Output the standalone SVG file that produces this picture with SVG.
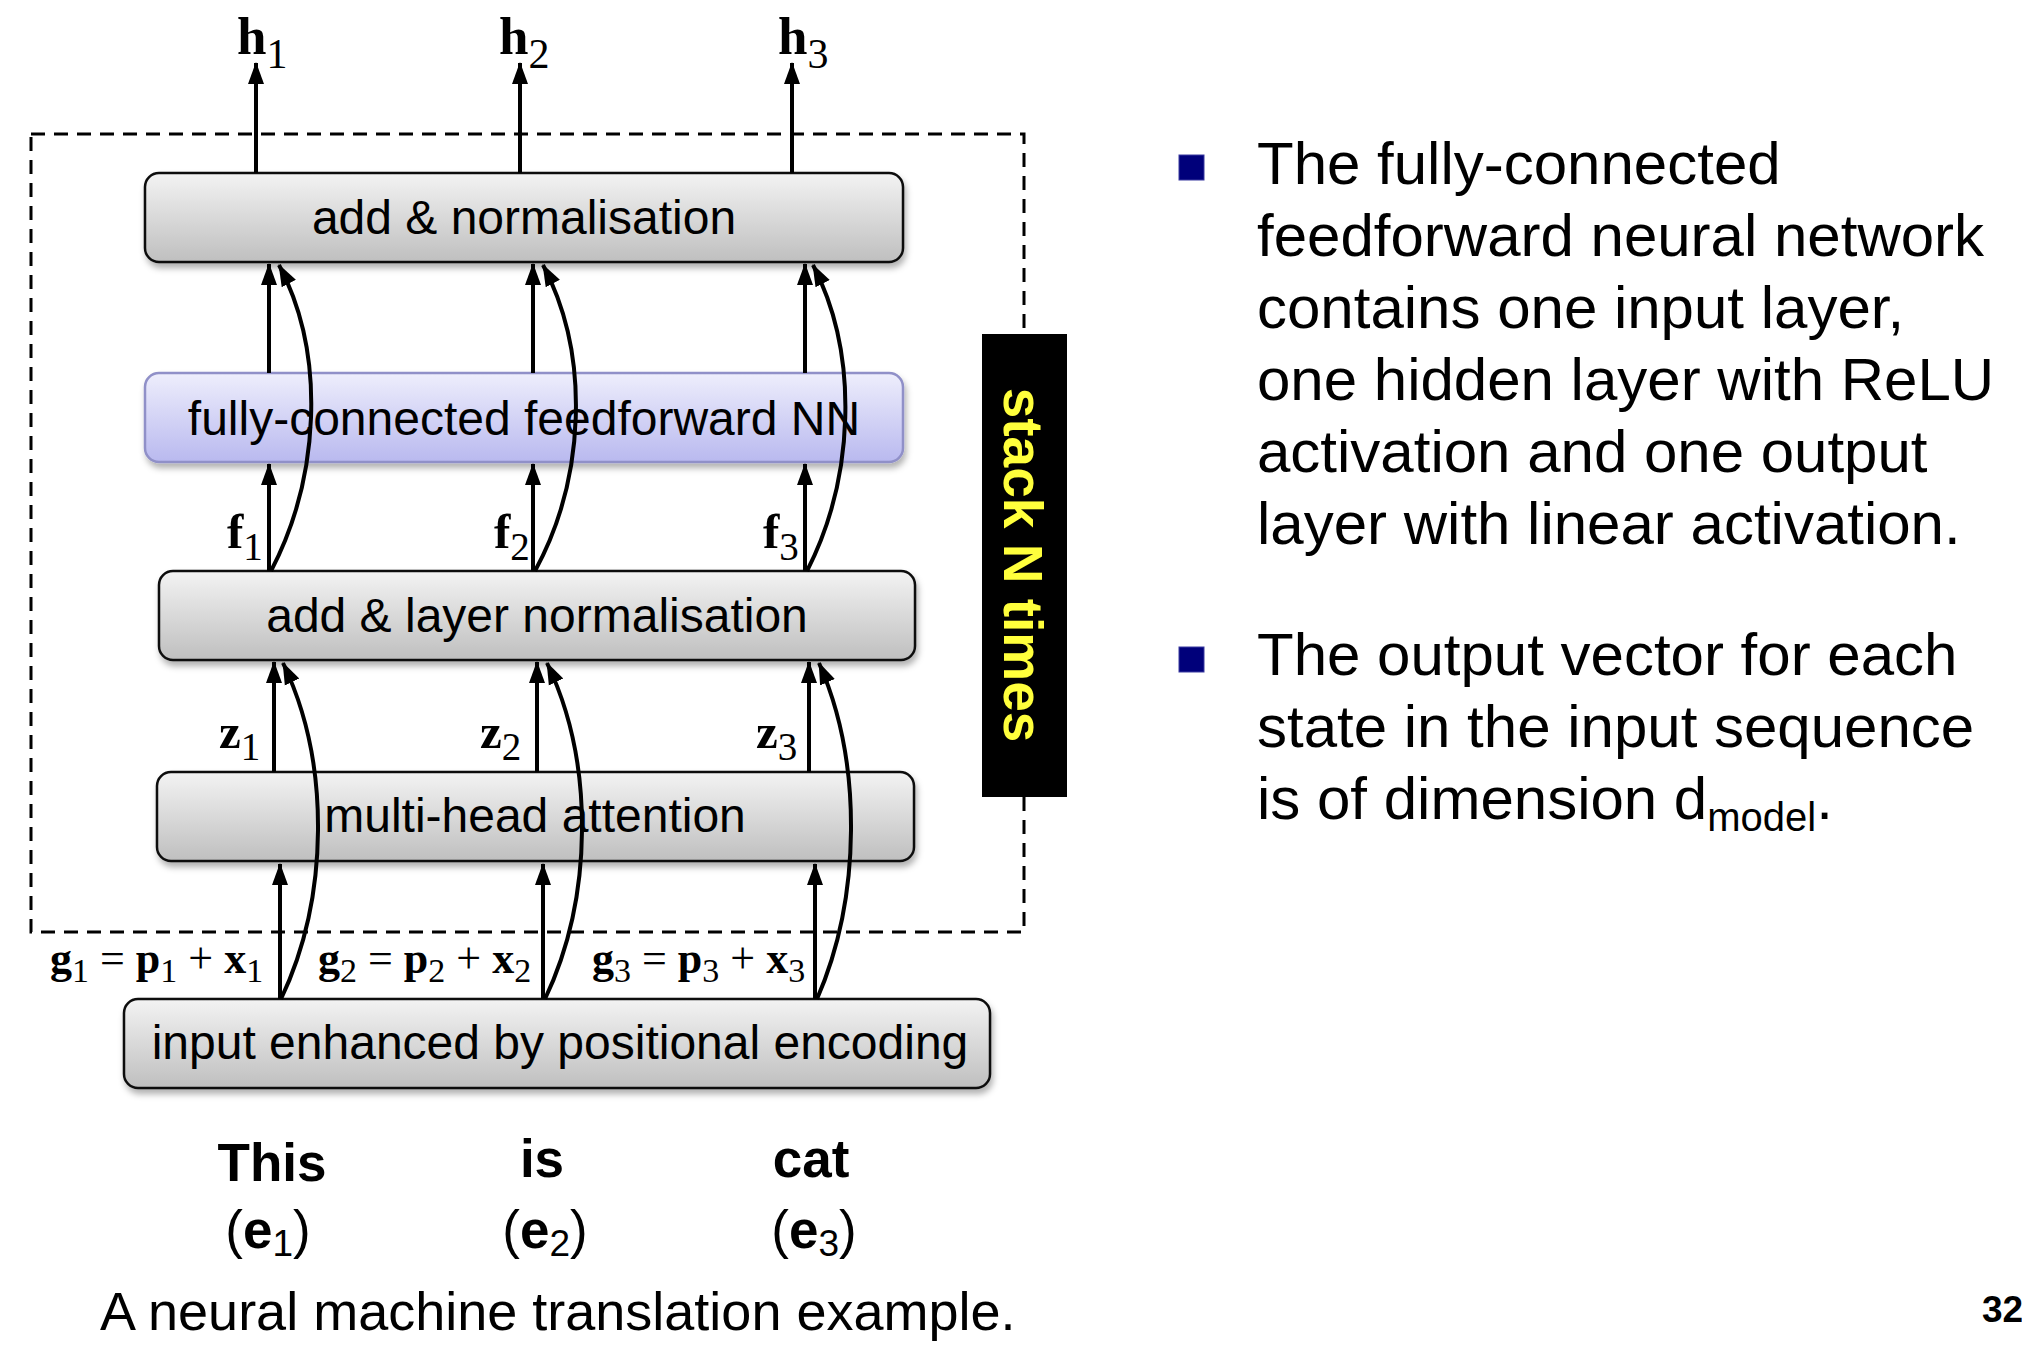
<svg xmlns="http://www.w3.org/2000/svg" width="2022" height="1348" viewBox="0 0 2022 1348">
<defs>
<linearGradient id="gGrey" x1="0" y1="0" x2="0" y2="1">
<stop offset="0" stop-color="#f3f3f3"/>
<stop offset="1" stop-color="#bfbfbf"/>
</linearGradient>
<linearGradient id="gBlue" x1="0" y1="0" x2="0" y2="1">
<stop offset="0" stop-color="#eeeefc"/>
<stop offset="1" stop-color="#b9b9ef"/>
</linearGradient>
<filter id="sh" x="-5%" y="-20%" width="110%" height="150%">
<feDropShadow dx="2" dy="5" stdDeviation="3" flood-color="#000" flood-opacity="0.3"/>
</filter>
<marker id="ah" markerUnits="userSpaceOnUse" markerWidth="22" markerHeight="22" viewBox="0 0 22 22" refX="21" refY="11" orient="auto">
<path d="M0,3 L22,11 L0,19 Z" fill="#000"/>
</marker>
<style>
.box rect{stroke:#111;stroke-width:2.5;filter:url(#sh)}
.grey rect{fill:url(#gGrey)}
.blue rect{fill:url(#gBlue);stroke:#9090c8}
.box text{font-family:"Liberation Sans",Arial,sans-serif;font-size:48px;fill:#000;text-anchor:middle}
.conn line,.conn path{stroke:#000;stroke-width:4;fill:none;marker-end:url(#ah)}
.m{font-family:"Liberation Serif","Times New Roman",serif;fill:#000}
.mb{font-weight:bold}
.sans{font-family:"Liberation Sans",Arial,sans-serif;fill:#000}
.body{font-size:60px}
.bullet{fill:#00007a;stroke:#3a3aa0;stroke-width:1}
</style>
</defs>
<rect width="2022" height="1348" fill="#fff"/>

<g id="stack-frame">
<rect x="31" y="134" width="993" height="798" fill="none" stroke="#000" stroke-width="3" stroke-dasharray="14 9"/>
</g>

<g id="input" class="box grey">
<rect x="124" y="999" width="866" height="89" rx="14"/>
<text x="560" y="1059">input enhanced by positional encoding</text>
</g>
<g id="mha" class="box grey">
<rect x="157" y="772" width="757" height="89" rx="14"/>
<text x="535" y="832">multi-head attention</text>
</g>
<g id="add-layer-norm" class="box grey">
<rect x="159" y="571" width="756" height="89" rx="14"/>
<text x="537" y="632">add &amp; layer normalisation</text>
</g>
<g id="ffn" class="box blue">
<rect x="145" y="373" width="758" height="89" rx="14"/>
<text x="524" y="435">fully-connected feedforward NN</text>
</g>
<g id="add-norm" class="box grey">
<rect x="145" y="173" width="758" height="89" rx="14"/>
<text x="524" y="234">add &amp; normalisation</text>
</g>

<g id="connectors" class="conn">
<line x1="256" y1="173" x2="256" y2="63"/>
<line x1="520" y1="173" x2="520" y2="63"/>
<line x1="792" y1="173" x2="792" y2="63"/>
<line x1="269" y1="373" x2="269" y2="264"/>
<line x1="533" y1="373" x2="533" y2="264"/>
<line x1="805" y1="373" x2="805" y2="264"/>
<line x1="269" y1="571" x2="269" y2="464"/>
<line x1="533" y1="571" x2="533" y2="464"/>
<line x1="805" y1="571" x2="805" y2="464"/>
<path d="M271,571 C319,479 327,356 279,265"/>
<path d="M535,571 C585,479 591,356 543,265"/>
<path d="M807,571 C854,479 860,356 813,265"/>
<line x1="274" y1="772" x2="274" y2="662"/>
<line x1="537" y1="772" x2="537" y2="662"/>
<line x1="809" y1="772" x2="809" y2="662"/>
<line x1="280" y1="999" x2="280" y2="864"/>
<line x1="543" y1="999" x2="543" y2="864"/>
<line x1="815" y1="999" x2="815" y2="864"/>
<path d="M281,999 C329,898 331,763 283,663"/>
<path d="M545,999 C593,898 595,763 547,663"/>
<path d="M817,999 C861,898 863,763 819,663"/>
</g>

<g id="stack-label">
<rect x="982" y="334" width="85" height="463" fill="#000"/>
<text transform="translate(1024,565) rotate(90)" x="0" y="20" text-anchor="middle" font-family="Liberation Sans, Arial, sans-serif" font-weight="bold" font-size="55" fill="#ffff3c">stack N times</text>
</g>

<g id="labels-h" class="m">
<text x="237" y="54"><tspan class="mb" font-size="53">h</tspan><tspan font-size="42" dy="14">1</tspan></text>
<text x="499" y="54"><tspan class="mb" font-size="53">h</tspan><tspan font-size="42" dy="14">2</tspan></text>
<text x="778" y="54"><tspan class="mb" font-size="53">h</tspan><tspan font-size="42" dy="14">3</tspan></text>
</g>
<g id="labels-f" class="m">
<text x="227" y="548"><tspan class="mb" font-size="49">f</tspan><tspan font-size="39" dy="12">1</tspan></text>
<text x="494" y="548"><tspan class="mb" font-size="49">f</tspan><tspan font-size="39" dy="12">2</tspan></text>
<text x="763" y="548"><tspan class="mb" font-size="49">f</tspan><tspan font-size="39" dy="12">3</tspan></text>
</g>
<g id="labels-z" class="m">
<text x="219" y="748"><tspan class="mb" font-size="49">z</tspan><tspan font-size="39" dy="12">1</tspan></text>
<text x="480" y="748"><tspan class="mb" font-size="49">z</tspan><tspan font-size="39" dy="12">2</tspan></text>
<text x="756" y="748"><tspan class="mb" font-size="49">z</tspan><tspan font-size="39" dy="12">3</tspan></text>
</g>
<g id="labels-g" class="m" font-size="44">
<text x="50" y="973"><tspan class="mb">g</tspan><tspan font-size="34" dy="9">1</tspan><tspan dy="-9"> = </tspan><tspan class="mb">p</tspan><tspan font-size="34" dy="9">1</tspan><tspan dy="-9"> + </tspan><tspan class="mb">x</tspan><tspan font-size="34" dy="9">1</tspan></text>
<text x="318" y="973"><tspan class="mb">g</tspan><tspan font-size="34" dy="9">2</tspan><tspan dy="-9"> = </tspan><tspan class="mb">p</tspan><tspan font-size="34" dy="9">2</tspan><tspan dy="-9"> + </tspan><tspan class="mb">x</tspan><tspan font-size="34" dy="9">2</tspan></text>
<text x="592" y="973"><tspan class="mb">g</tspan><tspan font-size="34" dy="9">3</tspan><tspan dy="-9"> = </tspan><tspan class="mb">p</tspan><tspan font-size="34" dy="9">3</tspan><tspan dy="-9"> + </tspan><tspan class="mb">x</tspan><tspan font-size="34" dy="9">3</tspan></text>
</g>

<g id="words" class="sans" text-anchor="middle">
<text x="272" y="1181" font-size="53" font-weight="bold">This</text>
<text x="542" y="1177" font-size="53" font-weight="bold">is</text>
<text x="811" y="1177" font-size="53" font-weight="bold">cat</text>
<text x="268" y="1248" font-size="53">(<tspan font-weight="bold">e</tspan><tspan font-size="37" dy="8">1</tspan><tspan dy="-8">)</tspan></text>
<text x="545" y="1248" font-size="53">(<tspan font-weight="bold">e</tspan><tspan font-size="37" dy="8">2</tspan><tspan dy="-8">)</tspan></text>
<text x="814" y="1248" font-size="53">(<tspan font-weight="bold">e</tspan><tspan font-size="37" dy="8">3</tspan><tspan dy="-8">)</tspan></text>
</g>

<g id="caption">
<text x="100" y="1330" class="sans" font-size="54">A neural machine translation example.</text>
</g>

<g id="bullets" class="sans body">
<rect class="bullet" x="1179" y="155" width="25" height="25"/>
<text x="1257" y="184">The fully-connected</text>
<text x="1257" y="256">feedforward neural network</text>
<text x="1257" y="328">contains one input layer,</text>
<text x="1257" y="400">one hidden layer with ReLU</text>
<text x="1257" y="472">activation and one output</text>
<text x="1257" y="544">layer with linear activation.</text>
<rect class="bullet" x="1179" y="647" width="25" height="25"/>
<text x="1257" y="675">The output vector for each</text>
<text x="1257" y="747">state in the input sequence</text>
<text x="1257" y="819">is of dimension d<tspan font-size="40" dy="12">model</tspan><tspan dy="-12">.</tspan></text>
</g>

<g id="page-number">
<text x="1982" y="1322" class="sans" font-size="37" font-weight="bold">32</text>
</g>
</svg>
